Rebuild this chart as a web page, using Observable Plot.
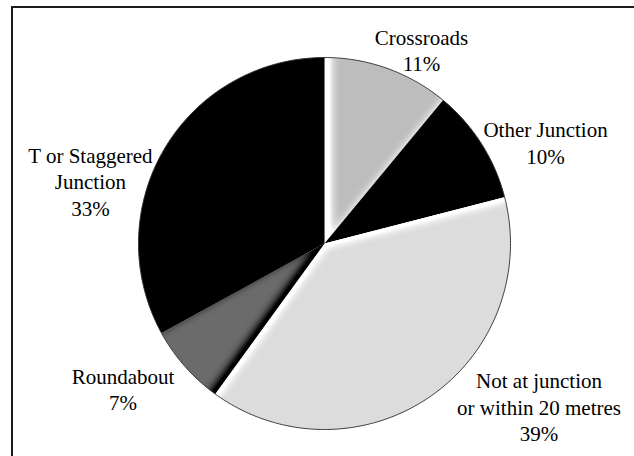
<!DOCTYPE html>
<html>
<head>
<meta charset="utf-8">
<script src="https://cdn.jsdelivr.net/npm/d3@7"></script>
<script src="https://cdn.jsdelivr.net/npm/@observablehq/plot@0.6"></script>
<style>
  body { margin: 0; background: #fff; }
  #wrap { position: relative; width: 634px; height: 456px; overflow: hidden; background: #fff; }
  #wrap svg { display: block; }
  #border { position: absolute; left: 11px; top: 6px; width: 700px; height: 600px;
            border: 2px solid #1c1c1c; pointer-events: none; z-index: 2; }
</style>
</head>
<body>
<div id="wrap"><div id="border"></div></div>
<script>
// ---- data ----
const categories = ["Crossroads", "Other Junction", "Not at junction\nor within 20 metres", "Roundabout", "T or Staggered\nJunction"];
const shares = [11, 10, 39, 7, 33];

// ---- styles / layout ----
const fills = ["#bdbdbd", "#000000", "#dcdcdc", "#6b6b6b", "#000000"];
const FONT = '"Liberation Serif", "Tinos", "Times New Roman", Times, "Nimbus Roman", "Nimbus Roman No9 L", "FreeSerif", "DejaVu Serif", "Noto Serif", serif';
// glow per slice: [colour, blur, dx, dy, strength] or null
const glows = [
  ["#ffffff", 6, 4, 0, 2.2],
  null,
  ["#ffffff", 5, 2, 2, 2.1],
  ["#000000", 5, -3, -3, 1.7],
  null
];
// label nudges from the rim point at each slice's mid-angle (pixels)
const labelNudge = [[34, -19], [64, -2], [110, 9], [-62, 22], [-74, 32]];

const W = 634, H = 456, CX = 324, CY = 243, R = 186;
const EXT = 1.3;

const total = d3.sum(shares);
let acc = 0;
const slices = shares.map((v, i) => {
  const a0 = acc / total * 2 * Math.PI;
  acc += v;
  const a1 = acc / total * 2 * Math.PI;
  return {cat: categories[i], share: v, a0, a1, mid: (a0 + a1) / 2};
});

// polygon points for each slice (extended radius, clipped to the circle later)
const slicePts = [];
for (const s of slices) {
  slicePts.push({cat: s.cat, x: 0, y: 0});
  const n = Math.max(2, Math.ceil((s.a1 - s.a0) / (Math.PI / 180)));
  for (let k = 0; k <= n; k++) {
    const a = s.a0 + (s.a1 - s.a0) * k / n;
    slicePts.push({cat: s.cat, x: EXT * Math.sin(a), y: EXT * Math.cos(a)});
  }
  slicePts.push({cat: s.cat, x: 0, y: 0});
}

const circlePts = d3.range(0, 361).map(d => {
  const a = d * Math.PI / 180;
  return {x: Math.sin(a), y: Math.cos(a)};
});

const labelRows = slices.map((s, i) => ({
  text: s.cat + "\n" + s.share + "%",
  x: Math.sin(s.mid) + labelNudge[i][0] / R,
  y: Math.cos(s.mid) - labelNudge[i][1] / R
}));

const plot = Plot.plot({
  width: W, height: H, margin: 0,
  style: {background: "#fff", fontFamily: FONT},
  x: {domain: [-CX / R, (W - CX) / R], axis: null},
  y: {domain: [(CY - H) / R, CY / R], axis: null},
  color: {type: "ordinal", domain: categories, range: fills},
  marks: [
    Plot.line(slicePts, {x: "x", y: "y", z: "cat", fill: "cat", stroke: "none"}),
    Plot.line(circlePts, {x: "x", y: "y", stroke: "#2a2a2a", strokeWidth: 0.9, fill: "none"}),
    Plot.text(labelRows, {x: "x", y: "y", text: "text", fontSize: 21,
      fontFamily: FONT, lineHeight: 1.26, fill: "#000"})
  ]
});

// shading filters and circular clip
const sx = plot.scale("x"), sy = plot.scale("y");
const cx = sx.apply(0), cy = sy.apply(0), rr = sx.apply(1) - sx.apply(0);
const svg = d3.select(plot);
svg.selectAll("text").style("font-family", FONT);
const defs = svg.insert("defs", ":first-child");
defs.append("clipPath").attr("id", "pieclip")
  .append("circle").attr("cx", cx).attr("cy", cy).attr("r", rr);
glows.forEach((g, i) => {
  if (!g) return;
  const [col, std, dx, dy, k] = g;
  const f = defs.append("filter").attr("id", "glow" + i)
    .attr("x", "-20%").attr("y", "-20%").attr("width", "140%").attr("height", "140%")
    .attr("color-interpolation-filters", "sRGB");
  f.append("feGaussianBlur").attr("in", "SourceAlpha").attr("stdDeviation", std).attr("result", "b");
  f.append("feOffset").attr("in", "b").attr("dx", dx).attr("dy", dy).attr("result", "o");
  f.append("feComposite").attr("in", "SourceAlpha").attr("in2", "o").attr("operator", "out").attr("result", "e0");
  const ct = f.append("feComponentTransfer").attr("in", "e0").attr("result", "e");
  ct.append("feFuncA").attr("type", "linear").attr("slope", k).attr("intercept", 0);
  f.append("feFlood").attr("flood-color", col).attr("result", "c");
  f.append("feComposite").attr("in", "c").attr("in2", "e").attr("operator", "in").attr("result", "g");
  f.append("feComposite").attr("in", "g").attr("in2", "SourceAlpha").attr("operator", "in").attr("result", "g2");
  const m = f.append("feMerge");
  m.append("feMergeNode").attr("in", "SourceGraphic");
  m.append("feMergeNode").attr("in", "g2");
});
const sliceNode = svg.selectAll("g").nodes().find(n => n.querySelector("path[fill]")) || svg.select("g").node();
const sliceG = d3.select(sliceNode);
sliceG.attr("clip-path", "url(#pieclip)");
sliceG.selectAll("path").each(function(_, i) {
  if (glows[i]) d3.select(this).attr("filter", "url(#glow" + i + ")");
});

document.getElementById("wrap").prepend(plot);
</script>
</body>
</html>
